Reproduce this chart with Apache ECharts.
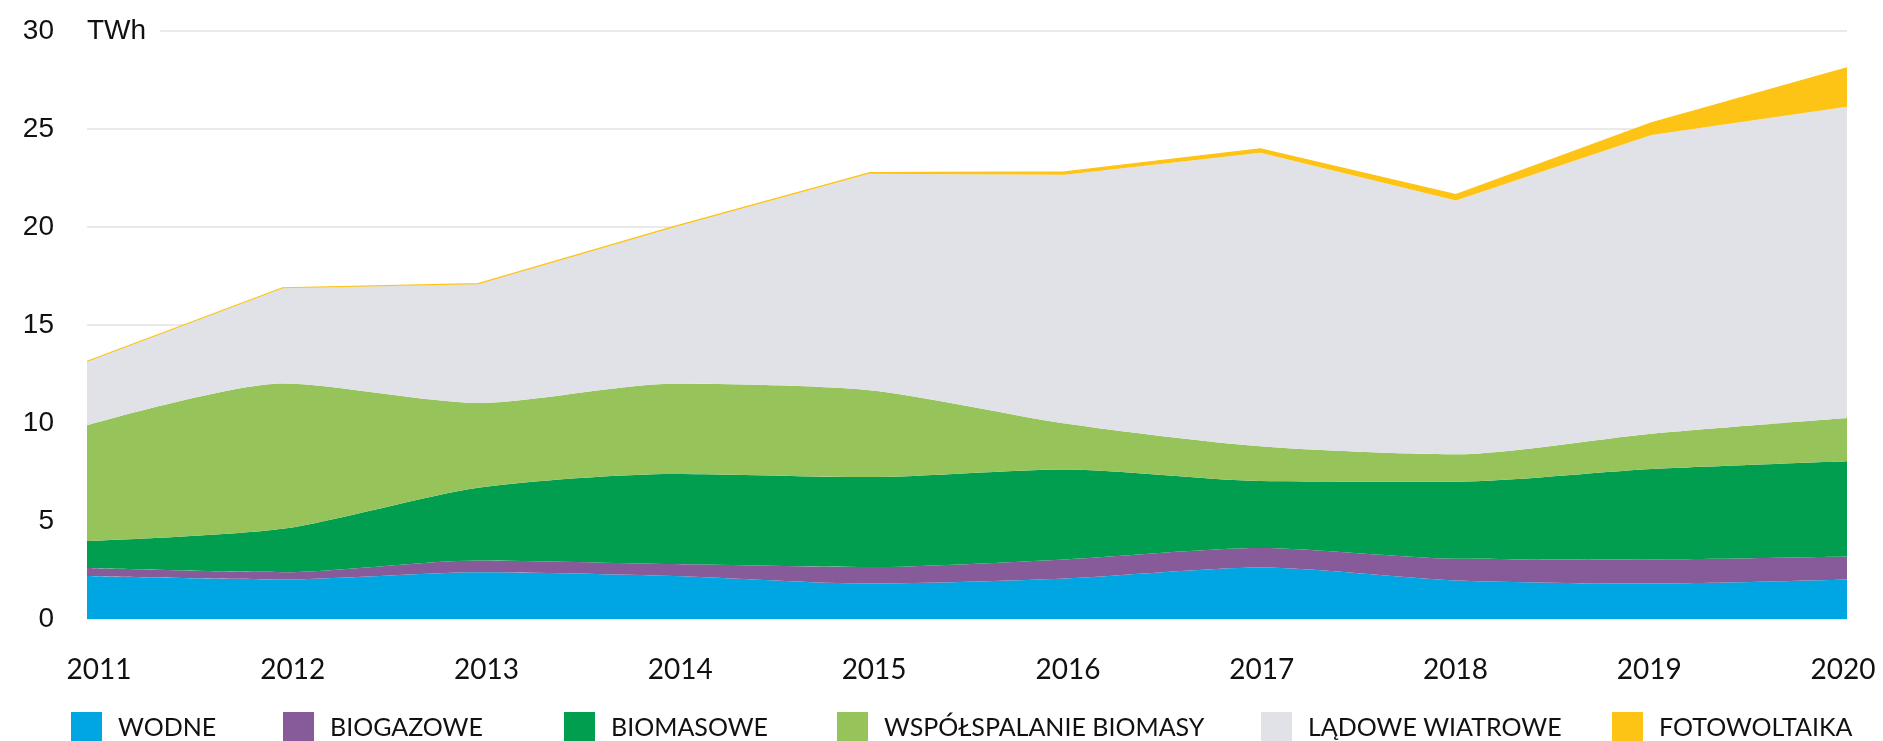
<!DOCTYPE html>
<html>
<head>
<meta charset="utf-8">
<script src="https://cdn.jsdelivr.net/npm/echarts@6/dist/echarts.min.js"></script>
<style>
  html, body { margin: 0; padding: 0; background: #fff; }
  #chart { width: 1883px; height: 741px; }
</style>
</head>
<body>
<div id="chart"></div>
<script>
// years on the x axis
const years = ['2011', '2012', '2013', '2014', '2015', '2016', '2017', '2018', '2019', '2020']

// TWh per source, stacked bottom to top
const wodne = [2.19, 2.02, 2.39, 2.2, 1.81, 2.07, 2.63, 1.97, 1.81, 2.02]
const biogazowe = [0.41, 0.37, 0.6, 0.6, 0.84, 0.97, 0.99, 1.1, 1.23, 1.17]
const biomasowe = [1.37, 2.21, 3.71, 4.6, 4.59, 4.59, 3.42, 3.93, 4.61, 4.86]
const wspolspalanie = [5.91, 7.41, 4.32, 4.6, 4.43, 2.35, 1.77, 1.4, 1.8, 2.2]
const ladoweWiatrowe = [3.27, 4.89, 6.08, 8.0, 11.05, 12.68, 14.98, 12.95, 15.25, 15.89]
const fotowoltaika = [0.0, 0.0, 0.01, 0.02, 0.05, 0.15, 0.2, 0.3, 0.62, 1.98]

const yTicks = { min: 0, max: 30, interval: 5 }

const seriesDefs = [
  { name: 'WODNE', data: wodne, color: '#00A6E2', smooth: 0.25 },
  { name: 'BIOGAZOWE', data: biogazowe, color: '#875A9A', smooth: 0.25 },
  { name: 'BIOMASOWE', data: biomasowe, color: '#009E4E', smooth: 0.25 },
  { name: 'WSPÓŁSPALANIE BIOMASY', data: wspolspalanie, color: '#96C35A', smooth: 0.25 },
  { name: 'LĄDOWE WIATROWE', data: ladoweWiatrowe, color: '#E1E2E7', smooth: 0 },
  { name: 'FOTOWOLTAIKA', data: fotowoltaika, color: '#FDC415', smooth: 0 }
]

// legend item x positions (each legend is its own component)
const legendLefts = [71, 283, 564, 837, 1261, 1612]

const chart = echarts.init(document.getElementById('chart'), null, { renderer: 'canvas' })

const option = {
  animation: false,
  backgroundColor: '#fff',
  grid: [
    { left: 87, right: 36, top: 31, bottom: 122 },
    // labels-only grid, the year labels sit a bit off the data points
    { left: 99, right: 40, top: 31, bottom: 122 }
  ],
  legend: seriesDefs.map((s, i) => ({
    data: [s.name],
    left: legendLefts[i],
    top: 712,
    itemWidth: 31,
    itemHeight: 31,
    itemGap: 0,
    padding: 0,
    selectedMode: false,
    icon: 'rect',
    textStyle: {
      fontFamily: 'Lato',
      fontSize: 25,
      color: '#111',
      padding: [0, 0, 0, 11]
    }
  })),
  xAxis: [
    {
      type: 'category',
      gridIndex: 0,
      data: years,
      boundaryGap: false,
      axisLine: { show: false },
      axisTick: { show: false },
      axisLabel: { show: false },
      splitLine: { show: false }
    },
    {
      type: 'category',
      gridIndex: 1,
      data: years,
      boundaryGap: false,
      axisLine: { show: false },
      axisTick: { show: false },
      splitLine: { show: false },
      axisLabel: {
        interval: 0,
        margin: 37,
        fontFamily: 'Lato',
        fontSize: 28,
        color: '#111'
      }
    }
  ],
  yAxis: [
    {
      type: 'value',
      gridIndex: 0,
      min: yTicks.min,
      max: yTicks.max,
      interval: yTicks.interval,
      name: 'TWh',
      nameLocation: 'end',
      nameGap: 0,
      nameTextStyle: {
        fontFamily: 'Liberation Sans',
        fontSize: 28,
        color: '#111',
        align: 'left',
        verticalAlign: 'middle',
        backgroundColor: '#fff',
        padding: [2, 14, 2, 0]
      },
      axisLine: { show: false },
      axisTick: { show: false },
      axisLabel: {
        margin: 33,
        fontFamily: 'Liberation Sans',
        fontSize: 28,
        color: '#111'
      },
      splitLine: { lineStyle: { color: '#E3E3E3', width: 1.5 } }
    },
    {
      type: 'value',
      gridIndex: 1,
      show: false
    }
  ],
  series: seriesDefs.map((s, i) => ({
    name: s.name,
    type: 'line',
    stack: 'total',
    data: s.data,
    smooth: s.smooth,
    symbol: 'none',
    color: s.color,
    z: 2 + i,
    lineStyle: i === seriesDefs.length - 1 ? { width: 1.2, color: s.color } : { width: 0 },
    areaStyle: { color: s.color, opacity: 1 }
  }))
}

chart.setOption(option)
</script>
</body>
</html>
